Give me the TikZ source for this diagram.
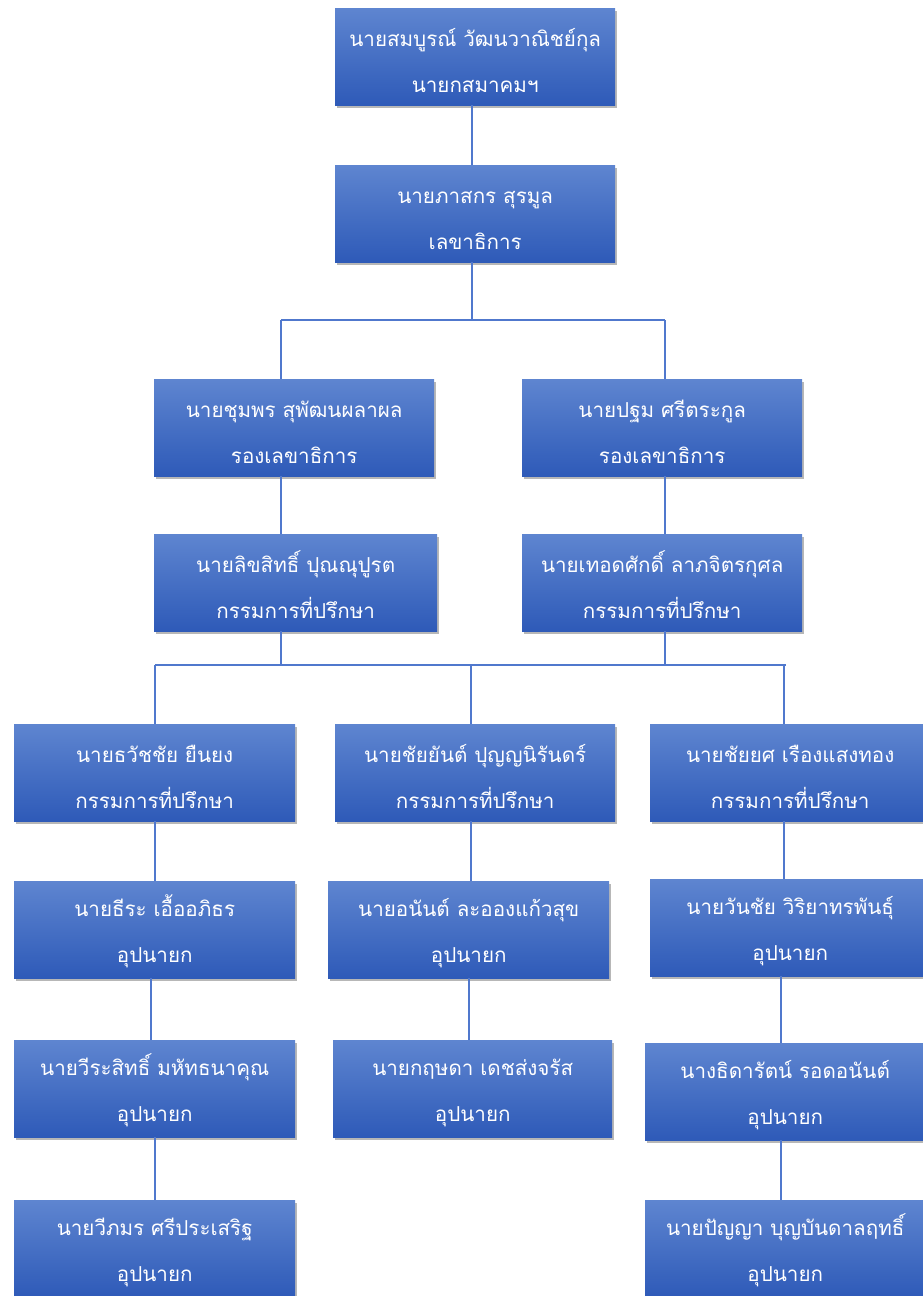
\documentclass[tikz,border=0pt]{standalone}
\usepackage{fontspec}
\newfontfamily\thaifont[Script=Thai]{Loma}
\usetikzlibrary{shadows}
\definecolor{boxtop}{RGB}{94,133,208}
\definecolor{boxbot}{RGB}{46,90,184}
\definecolor{linecol}{RGB}{80,120,205}
\newcommand{\bx}[2]{\rule{0pt}{25pt}#1\\#2}
\tikzset{
  orgbox/.style={rectangle, anchor=north west, minimum width=280pt, minimum height=97pt,
    top color=boxtop, bottom color=boxbot, draw=none, text=white, align=center,
    inner sep=0pt, font=\thaifont\fontsize{20.6}{46}\selectfont,
    drop shadow={shadow xshift=2pt, shadow yshift=-3pt, opacity=0.4, fill=black!70}},
  conn/.style={draw=linecol, line width=1.4pt}
}
\begin{document}
\begin{tikzpicture}[x=1pt,y=-1pt]
\useasboundingbox (0,0) rectangle (922,1296);
\node[orgbox] (A) at (335,8) {\bx{นายสมบูรณ์ วัฒนวาณิชย์กุล}{นายกสมาคมฯ}};
\node[orgbox] (B) at (335,165) {\bx{นายภาสกร สุรมูล}{เลขาธิการ}};
\node[orgbox] (C) at (154,379) {\bx{นายชุมพร สุพัฒนผลาผล}{รองเลขาธิการ}};
\node[orgbox] (D) at (522,379) {\bx{นายปฐม ศรีตระกูล}{รองเลขาธิการ}};
\node[orgbox, minimum width=283pt] (E) at (154,534) {\bx{นายลิขสิทธิ์ ปุณณุปูรต}{กรรมการที่ปรึกษา}};
\node[orgbox] (F) at (522,534) {\bx{นายเทอดศักดิ์ ลาภจิตรกุศล}{กรรมการที่ปรึกษา}};
\node[orgbox, minimum width=281pt] (G) at (14,724) {\bx{นายธวัชชัย ยืนยง}{กรรมการที่ปรึกษา}};
\node[orgbox] (H) at (335,724) {\bx{นายชัยยันต์ ปุญญนิรันดร์}{กรรมการที่ปรึกษา}};
\node[orgbox] (I) at (650,724) {\bx{นายชัยยศ เรืองแสงทอง}{กรรมการที่ปรึกษา}};
\node[orgbox, minimum width=281pt] (J) at (14,881) {\bx{นายธีระ เอื้ออภิธร}{อุปนายก}};
\node[orgbox, minimum width=281pt] (K) at (328,881) {\bx{นายอนันต์ ละอองแก้วสุข}{อุปนายก}};
\node[orgbox] (L) at (650,879) {\bx{นายวันชัย วิริยาทรพันธุ์}{อุปนายก}};
\node[orgbox, minimum width=281pt] (M) at (14,1040) {\bx{นายวีระสิทธิ์ มหัทธนาคุณ}{อุปนายก}};
\node[orgbox, minimum width=279pt] (N) at (333,1040) {\bx{นายกฤษดา เดชส่งจรัส}{อุปนายก}};
\node[orgbox] (O) at (645,1043) {\bx{นางธิดารัตน์ รอดอนันต์}{อุปนายก}};
\node[orgbox, minimum width=281pt] (P) at (14,1200) {\bx{นายวีภมร ศรีประเสริฐ}{อุปนายก}};
\node[orgbox] (Q) at (645,1200) {\bx{นายปัญญา บุญบันดาลฤทธิ์}{อุปนายก}};
% connector columns
\coordinate (xa) at (472,0);
\coordinate (xl) at (281,0);
\coordinate (xr) at (665,0);
\coordinate (x1) at (155,0);
\coordinate (x2) at (471,0);
\coordinate (x3) at (784,0);
\coordinate (x1b) at (151,0);
\coordinate (x2b) at (469,0);
\coordinate (x3b) at (781,0);
\coordinate (y1) at (0,320);
\coordinate (y2) at (0,665);
\coordinate (j1l) at (281,320);
\coordinate (j1r) at (665,320);
\coordinate (j2l) at (155,665);
\coordinate (j2r) at (786,665);
\draw[conn] (A.south -| xa) -- (B.north -| xa);
\draw[conn] (B.south -| xa) -- (y1 -| xa);
\draw[conn] (j1l) -- (j1r);
\draw[conn] (j1l) -- (C.north -| xl);
\draw[conn] (j1r) -- (D.north -| xr);
\draw[conn] (C.south -| xl) -- (E.north -| xl);
\draw[conn] (D.south -| xr) -- (F.north -| xr);
\draw[conn] (E.south -| xl) -- (y2 -| xl);
\draw[conn] (F.south -| xr) -- (y2 -| xr);
\draw[conn] (j2l) -- (j2r);
\draw[conn] (j2l) -- (G.north -| x1);
\draw[conn] (y2 -| x2) -- (H.north -| x2);
\draw[conn] (y2 -| x3) -- (I.north -| x3);
\draw[conn] (G.south -| x1) -- (J.north -| x1);
\draw[conn] (H.south -| x2) -- (K.north -| x2);
\draw[conn] (I.south -| x3) -- (L.north -| x3);
\draw[conn] (J.south -| x1b) -- (M.north -| x1b);
\draw[conn] (K.south -| x2b) -- (N.north -| x2b);
\draw[conn] (L.south -| x3b) -- (O.north -| x3b);
\draw[conn] (M.south -| x1) -- (P.north -| x1);
\draw[conn] (O.south -| x3b) -- (Q.north -| x3b);
\end{tikzpicture}
\end{document}
